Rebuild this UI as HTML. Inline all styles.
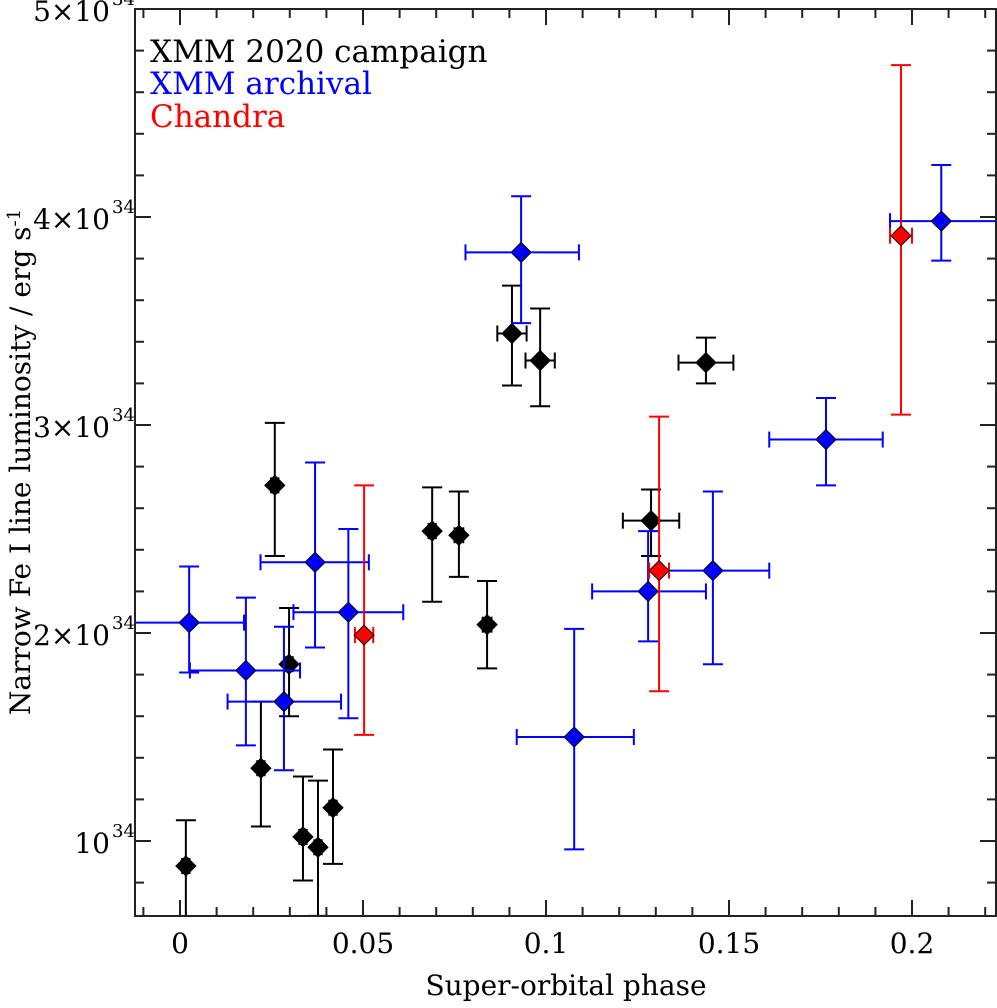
<!DOCTYPE html>
<html><head><meta charset="utf-8"><style>
body{margin:0;background:#fff}
text{font-family:"DejaVu Serif","Liberation Serif",serif}
</style></head><body>
<svg id="c" width="997" height="1003" xmlns="http://www.w3.org/2000/svg">
<defs><clipPath id="pc"><rect x="135" y="9" width="861" height="907"/></clipPath></defs>
<g id="plot" clip-path="url(#pc)"></g>
<rect x="135" y="9" width="861" height="907" fill="none" stroke="#222" stroke-width="2"/>
<g id="axes"></g>
<text x="30" y="462" font-size="28" text-anchor="middle" transform="rotate(-90 30 462)">Narrow Fe I line luminosity / erg s<tspan dy="-10" font-size="18">-1</tspan></text>
<text x="566" y="995" font-size="28" text-anchor="middle">Super-orbital phase</text>
<text x="150" y="62" font-size="31" fill="#000">XMM 2020 campaign</text>
<text x="150" y="94" font-size="31" fill="#0000ff">XMM archival</text>
<text x="150" y="127" font-size="31" fill="#ff0000">Chandra</text>
</svg>
<script>
const xTicks=[0,0.05,0.1,0.15,0.2];
const xTickLabels=["0","0.05","0.1","0.15","0.2"];
const yTicks=[1,2,3,4,5];
const yTickLabels=["10","2×10","3×10","4×10","5×10"];
// XMM 2020 [phase, xerr, lum(1e34), up, low]
const blackP=[0.0016,0.0259,0.0298,0.0221,0.0336,0.0377,0.0418,0.0689,0.0762,0.0839,0.0907,0.0984,0.1287,0.1437];
const blackXerr=[0.001,0.001,0.001,0.001,0.001,0.001,0.001,0.001,0.0012,0.0012,0.004,0.004,0.0077,0.0075];
const blackV=[0.88,2.71,1.85,1.35,1.02,0.97,1.16,2.49,2.47,2.04,3.44,3.31,2.54,3.30];
const blackHi=[1.10,3.01,2.12,1.67,1.31,1.29,1.44,2.70,2.68,2.25,3.67,3.56,2.69,3.42];
const blackLo=[0.60,2.37,1.60,1.07,0.81,0.64,0.89,2.15,2.27,1.83,3.19,3.09,2.37,3.20];
const blueP=[0.0025,0.018,0.0284,0.0369,0.046,0.0932,0.1077,0.1279,0.1456,0.1765,0.208];
const blueXlo=[-0.013,0.0027,0.013,0.022,0.031,0.078,0.092,0.1126,0.128,0.161,0.194];
const blueXhi=[0.0175,0.0328,0.044,0.0516,0.061,0.109,0.124,0.1437,0.161,0.192,0.225];
const blueV=[2.05,1.82,1.67,2.34,2.10,3.83,1.50,2.20,2.30,2.93,3.98];
const blueHi=[2.32,2.17,2.03,2.82,2.50,4.10,2.02,2.49,2.68,3.13,4.25];
const blueLo=[1.81,1.46,1.34,1.93,1.59,3.49,0.96,1.96,1.85,2.71,3.79];
const redP=[0.0503,0.1309,0.197];
const redXerr=[0.0025,0.0027,0.003];
const redV=[1.99,2.30,3.91];
const redHi=[2.71,3.04,4.73];
const redLo=[1.51,1.72,3.05];
const X=p=>180+p*3660, Y=v=>841-(v-1)*208;
const NS="http://www.w3.org/2000/svg";
function mk(t,a,parent){const e=document.createElementNS(NS,t);for(const k in a)e.setAttribute(k,a[k]);parent.appendChild(e);return e;}
const plot=document.getElementById('plot'), axes=document.getElementById('axes'), svg=document.getElementById('c');
// minor/major ticks
for(let i=-1;i<=22;i++){const x=X(i*0.01);if(x<136||x>995)continue;const L=i%5===0?16:9;
mk('line',{x1:x,y1:916,x2:x,y2:916-L,stroke:'#222','stroke-width':2},axes);
mk('line',{x1:x,y1:9,x2:x,y2:9+L,stroke:'#222','stroke-width':2},axes);}
for(let i=3;i<=25;i++){const v=i*0.2,y=Y(v);if(y<9||y>916)continue;const L=i%5===0?16:9;
mk('line',{x1:135,y1:y,x2:135+L,y2:y,stroke:'#222','stroke-width':2},axes);
mk('line',{x1:996,y1:y,x2:996-L,y2:y,stroke:'#222','stroke-width':2},axes);}
xTicks.forEach((t,i)=>{const e=mk('text',{x:X(t),y:953,'font-size':28,'text-anchor':'middle'},svg);e.textContent=xTickLabels[i];

});
yTicks.forEach((t,i)=>{const e=mk('text',{x:110,y:Y(t)+12,'font-size':28,'text-anchor':'end'},svg);e.textContent=yTickLabels[i];
const s=mk('tspan',{x:112,y:Y(t)-6,'font-size':18,'text-anchor':'start'},svg);
const e2=mk('text',{x:112,y:Y(t)-4,'font-size':18},svg);e2.textContent='34';svg.removeChild(s);



});
function pt(p,xl,xh,v,hi,lo,col,fill,name){
const g=mk('g',{stroke:col,'stroke-width':2,fill:'none'},plot);


const x=X(p),y=Y(v),x1=X(xl),x2=X(xh),y1=Y(hi),y2=Y(lo);
mk('line',{x1:x,y1:y1,x2:x,y2:y2},g);
mk('line',{x1:x-10,y1:y1,x2:x+10,y2:y1},g);
mk('line',{x1:x-10,y1:y2,x2:x+10,y2:y2},g);
mk('line',{x1:x1,y1:y,x2:x2,y2:y},g);
mk('line',{x1:x1,y1:y-8,x2:x1,y2:y+8},g);
mk('line',{x1:x2,y1:y-8,x2:x2,y2:y+8},g);
mk('polygon',{points:`${x},${y-10} ${x+10},${y} ${x},${y+10} ${x-10},${y}`,fill:fill,stroke:'#000','stroke-width':1},g);}
blackP.forEach((p,i)=>pt(p,p-blackXerr[i],p+blackXerr[i],blackV[i],blackHi[i],blackLo[i],'#000','#000','xmm-2020-point'));
blueP.forEach((p,i)=>pt(p,blueXlo[i],blueXhi[i],blueV[i],blueHi[i],blueLo[i],'#0000ff','#0000ff','xmm-archival-point'));
redP.forEach((p,i)=>pt(p,p-redXerr[i],p+redXerr[i],redV[i],redHi[i],redLo[i],'#ff0000','#ff0000','chandra-point'));
</script>
</body></html>
